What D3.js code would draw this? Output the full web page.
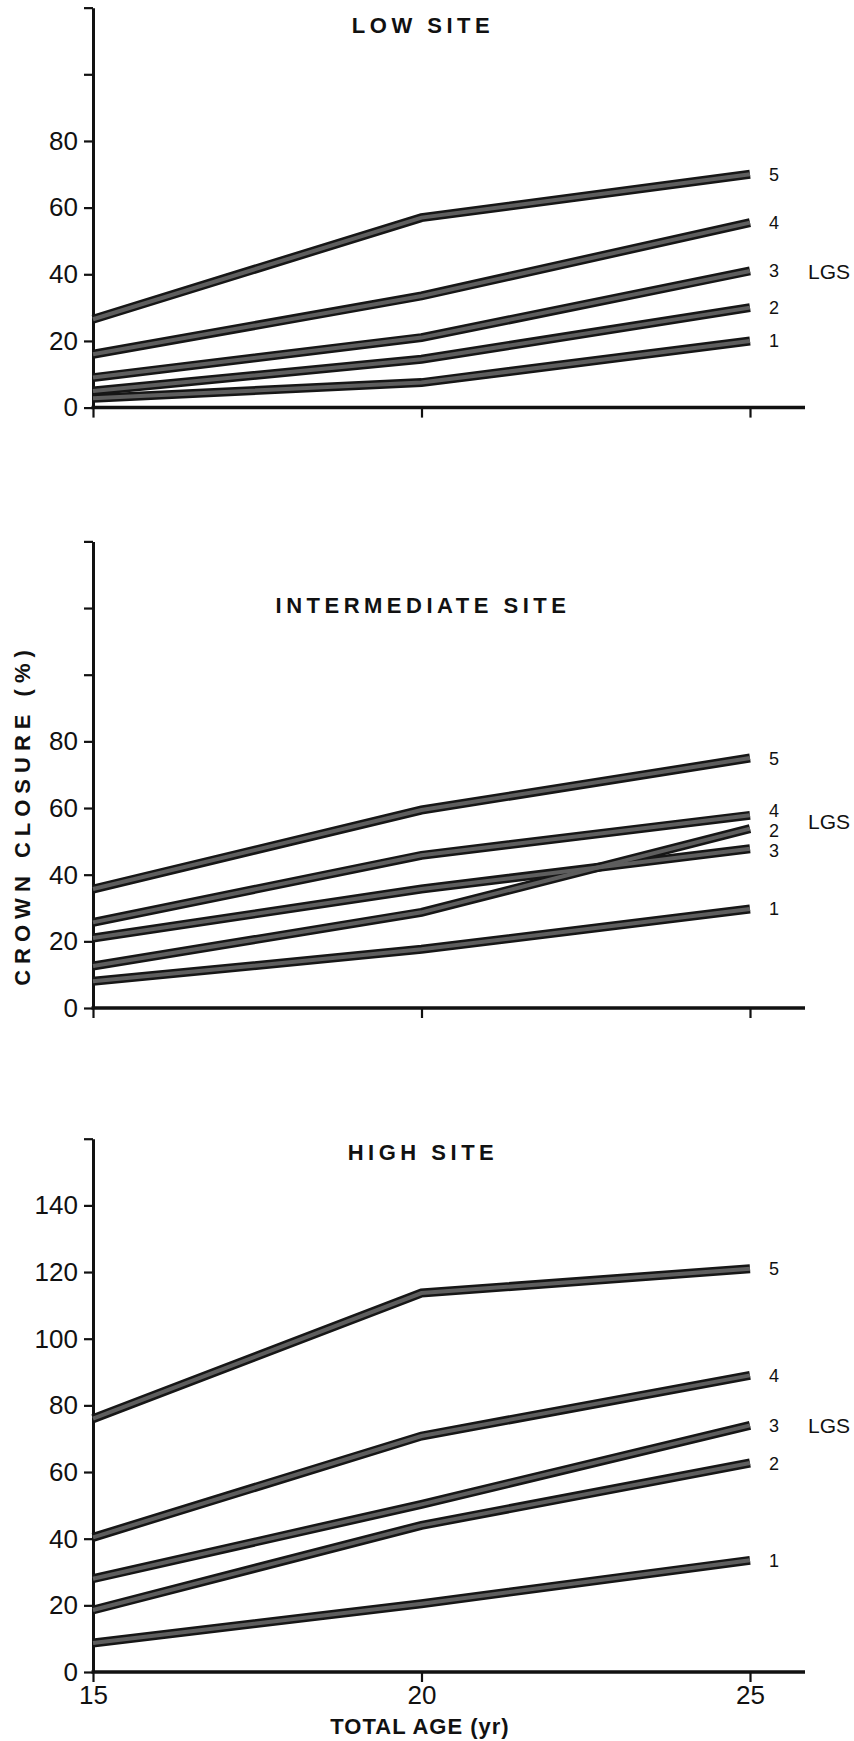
<!DOCTYPE html>
<html>
<head>
<meta charset="utf-8">
<script src="https://cdn.jsdelivr.net/npm/d3@7"></script>
<style>
  body { margin: 0; background: #fff; }
  text { font-family: "Liberation Sans", Arial, sans-serif; fill: #111; }
</style>
</head>
<body>
<script>
// total age (yr) and levels of growing stock
var ages = [15, 20, 25];
var lgs = [1, 2, 3, 4, 5];

// crown closure (%) per LGS line, at ages 15, 20, 25
var lowSite = [[2.8, 7.5, 20], [5, 14.5, 30], [9, 21, 41], [16, 33.5, 55.5], [26.5, 57, 70]];
var intermediateSite = [[8, 17.6, 29.7], [12.6, 28.7, 53.8], [21, 35.7, 47.8], [25.7, 45.8, 57.8], [35.7, 59.4, 75]];
var highSite = [[8.7, 20.5, 33.5], [18.6, 44, 62.7], [28, 50.3, 74], [40.4, 70.8, 89], [76, 113.7, 121]];

var lowTicks = [0, 20, 40, 60, 80, 100, 120];
var intTicks = [0, 20, 40, 60, 80, 100, 120, 140];
var highTicks = [0, 20, 40, 60, 80, 100, 120, 140, 160];

var titles = ["LOW SITE", "INTERMEDIATE SITE", "HIGH SITE"];
var lgsLevel = [41, 56, 74];   // where the "LGS" tag sits on each panel

var width = 854, height = 1741;
var svg = d3.select("body").append("svg")
    .attr("width", width)
    .attr("height", height);

var x = d3.scaleLinear().domain([15, 25]).range([93, 750]);

var panels = [
    {data: lowSite, ticks: lowTicks, maxLabel: 80, zero: 407.6, title: titles[0], titleY: 33},
    {data: intermediateSite, ticks: intTicks, maxLabel: 80, zero: 1008, title: titles[1], titleY: 613},
    {data: highSite, ticks: highTicks, maxLabel: 140, zero: 1672, title: titles[2], titleY: 1160}
];

var unit = 3.333; // px per percent, same on every panel

panels.forEach(function(p, i) {
    var top = d3.max(p.ticks);
    var y = d3.scaleLinear().domain([0, top]).range([p.zero, p.zero - top * unit]);
    var g = svg.append("g");

    // y axis
    var yAxis = g.append("g")
        .attr("transform", "translate(" + x(15) + ",0)")
        .call(d3.axisLeft(y).tickValues(p.ticks).tickSize(9).tickSizeOuter(0).tickPadding(6)
            .tickFormat(function(d){ return d <= p.maxLabel ? d : ""; }));
    yAxis.select(".domain").attr("stroke", "#111").attr("stroke-width", 3);
    yAxis.selectAll(".tick line").attr("stroke", "#111").attr("stroke-width", 2.2);
    yAxis.selectAll(".tick text").style("font-size", "26px").attr("fill", "#111");

    // x axis line runs past the last tick
    g.append("line")
        .attr("x1", x(15) - 1.5).attr("x2", 805)
        .attr("y1", y(0)).attr("y2", y(0))
        .attr("stroke", "#111").attr("stroke-width", 3.5);
    var xAxis = g.append("g")
        .attr("transform", "translate(0," + y(0) + ")")
        .call(d3.axisBottom(x).tickValues(ages).tickSize(10).tickSizeOuter(0).tickPadding(4)
            .tickFormat(function(d){ return i == 2 ? d : ""; }));
    xAxis.select(".domain").remove();
    xAxis.selectAll(".tick line").attr("stroke", "#111").attr("stroke-width", 2.2);
    xAxis.selectAll(".tick text").style("font-size", "26px").attr("fill", "#111");

    // title
    g.append("text")
        .attr("x", 423).attr("y", p.titleY)
        .attr("text-anchor", "middle")
        .style("font-size", "22px").style("font-weight", "bold").style("letter-spacing", "4.5px")
        .text(p.title);

    var line = d3.line()
        .x(function(d, k){ return x(ages[k]); })
        .y(function(d){ return y(d); });

    // thick banded lines: dark edges, grey core
    g.selectAll(".outer").data(p.data).enter().append("path")
        .attr("d", line).attr("fill", "none")
        .attr("stroke", "#161616").attr("stroke-width", 9);
    g.selectAll(".inner").data(p.data).enter().append("path")
        .attr("d", line).attr("fill", "none")
        .attr("stroke", "#5e5e5e").attr("stroke-width", 4);

    // LGS number at each line end, nudged apart where lines end close together
    var minGap = 20;
    var labs = p.data.map(function(d, k){ return {n: lgs[k], y: y(d[2])}; })
        .sort(function(a, b){ return a.y - b.y; });
    for (var it = 0; it < 30; it++) {
        for (var k = 1; k < labs.length; k++) {
            var gap = labs[k].y - labs[k-1].y;
            if (gap < minGap) {
                var push = (minGap - gap) / 2;
                labs[k-1].y -= push;
                labs[k].y += push;
            }
        }
    }
    g.selectAll(".lab").data(labs).enter().append("text")
        .attr("x", 769)
        .attr("y", function(d){ return d.y; })
        .attr("dy", "0.36em")
        .style("font-size", "18px")
        .text(function(d){ return d.n; });

    g.append("text")
        .attr("x", 808).attr("y", y(lgsLevel[i]))
        .attr("dy", "0.36em")
        .style("font-size", "21px")
        .text("LGS");
});

// axis titles
svg.append("text")
    .attr("transform", "translate(30,815) rotate(-90)")
    .attr("text-anchor", "middle")
    .style("font-size", "22px").style("font-weight", "bold").style("letter-spacing", "6px")
    .text("CROWN CLOSURE (%)");

svg.append("text")
    .attr("x", 420).attr("y", 1734)
    .attr("text-anchor", "middle")
    .style("font-size", "22px").style("font-weight", "bold").style("letter-spacing", "1px")
    .text("TOTAL AGE (yr)");
</script>
</body>
</html>
